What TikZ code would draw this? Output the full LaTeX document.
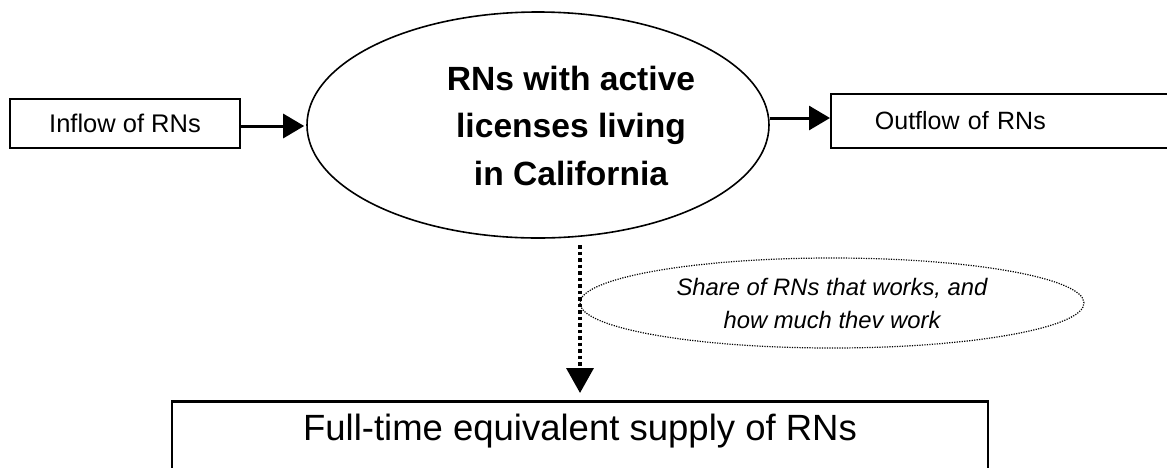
\documentclass[tikz,border=0pt]{standalone}
\usepackage{fontspec}
\setmainfont{Liberation Sans}
\usetikzlibrary{arrows.meta,shapes.geometric}
\begin{document}
\begin{tikzpicture}[x=1pt,y=-1pt,
  flowbox/.style={draw,line width=1.8pt,rectangle,inner sep=0pt},
  flowarrow/.style={line width=3pt,-{Triangle[length=21pt,width=24pt]}},
  dotarrow/.style={line width=3.5pt,dash pattern=on 3.5pt off 3pt,-{Triangle[length=25pt,width=27pt]}},
  dotellipse/.style={draw,ellipse,line width=1.2pt,dash pattern=on 1.2pt off 1.3pt,inner sep=0pt}]
\useasboundingbox (0,0) rectangle (1167,467);
\node[flowbox,minimum width=230,minimum height=49,font=\fontsize{25.5}{30}\selectfont] (inflow) at (125,123.5) {Inflow of RNs};
\node[flowbox,anchor=west,text width=257,align=left,inner xsep=44,minimum height=54,font=\fontsize{25}{30}\selectfont] (outflow) at (830,121) {Outflow of RNs};
\node[draw,ellipse,line width=1.6pt,minimum width=462,minimum height=226,inner sep=0pt] (stock) at (538,125) {};
\node[align=center,inner sep=0pt,font=\bfseries\fontsize{33.6}{47.5}\selectfont] (stocktext) at (571,125.5) {RNs with active\\licenses living\\in California};
\node[dotellipse,minimum width=504,minimum height=90,align=center,font=\itshape\fontsize{23.8}{33}\selectfont] (share) at (832,303) {Share of RNs that works, and\\how much thev work};
\node[flowbox,line width=2.5pt,anchor=north,minimum width=816,inner ysep=13pt,text height=26pt,text depth=45pt,font=\fontsize{36.5}{40}\selectfont] (fte) at (580,400) {Full-time equivalent supply of RNs};
\coordinate (dstart) at (580,245);
\draw[flowarrow,shorten >=2pt] (inflow.east |- 0,126) -- (stock.west |- 0,126);
\draw[flowarrow] (stock.east |- 0,118) -- (outflow.west |- 0,118);
\draw[dotarrow,shorten >=7pt] (dstart) -- (dstart |- fte.north);
\end{tikzpicture}
\end{document}
